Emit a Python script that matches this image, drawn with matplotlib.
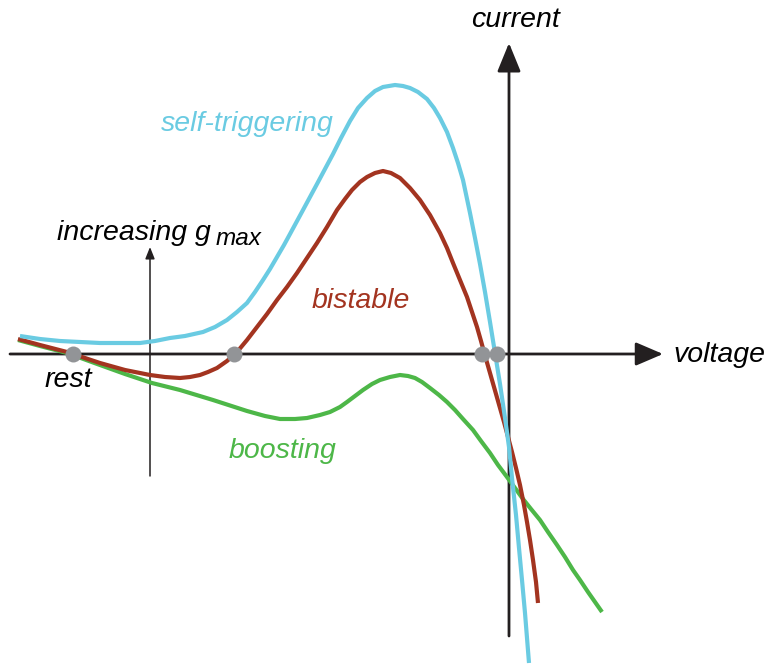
import matplotlib
matplotlib.use('Agg')
import matplotlib.pyplot as plt

# Curves (voltage, current), origin at the axes crossing
cyan_v = [-489, -469, -449, -429, -409, -389, -369, -354, -339, -324,
          -306, -294, -282, -272, -262, -254, -246, -239, -232, -225,
          -219, -206, -192, -184, -176, -168, -159, -151, -142, -134,
          -126, -114, -106, -99, -91, -82, -75, -69, -62, -56,
          -51, -46, -39, -34, -29, -24, -19, -14, -9, -4,
          0, 3, 7, 10, 13, 16, 20]
cyan_i = [18, 15, 13, 12, 11, 11, 11, 13, 16, 18,
          22, 27, 34, 42, 51, 62, 74, 85, 97, 109,
          120, 144, 170, 185, 200, 216, 233, 246, 256, 263,
          267, 269, 268, 266, 262, 255, 246, 236, 222, 206,
          191, 174, 141, 116, 90, 62, 32, 1, -30, -64,
          -93, -124, -161, -194, -226, -259, -309]

brown_v = [-491, -469, -442, -409, -384, -359, -344, -329, -319, -309,
           -301, -292, -282, -272, -262, -252, -242, -232, -222, -212,
           -202, -192, -182, -172, -164, -157, -149, -142, -134, -126,
           -118, -109, -99, -89, -79, -69, -62, -56, -49, -42,
           -37, -32, -28, -25, -21, -17, -13, -9, -5, -1,
           3, 7, 11, 15, 18, 21, 24, 27, 29]
brown_i = [15, 9, 2, -9, -16, -21, -23, -24, -23, -21,
           -18, -14, -7, 2, 14, 27, 40, 54, 67, 81,
           96, 111, 127, 144, 155, 164, 172, 177, 181, 183,
           181, 176, 166, 154, 139, 121, 106, 91, 74, 57,
           42, 27, 13, 2, -12, -26, -40, -54, -68, -83,
           -98, -114, -131, -151, -168, -186, -206, -228, -249]

green_v = [-491, -469, -442, -409, -384, -357, -329, -296, -262, -244,
           -229, -214, -202, -189, -179, -169, -162, -154, -146, -137,
           -129, -119, -109, -101, -94, -87, -79, -70, -62, -54,
           -46, -36, -28, -19, -11, -2, 6, 14, 22, 31,
           39, 48, 56, 64, 71, 79, 86, 93]
green_i = [14, 8, 1, -11, -20, -29, -36, -46, -57, -62,
           -65, -65, -64, -61, -58, -53, -48, -42, -36, -30,
           -26, -23, -21, -22, -24, -28, -34, -41, -48, -56,
           -65, -76, -87, -99, -111, -123, -134, -145, -155, -166,
           -178, -191, -203, -216, -226, -238, -248, -258]

# fixed points on the voltage axis
dots_v = [-436, -275, -27, -12]
dots_i = [0, 0, 0, 0]

c_cyan = '#6ACBE2'
c_brown = '#A33420'
c_green = '#4DB748'
c_gray = '#929497'
c_black = '#231F20'

fig = plt.figure(figsize=(7.65, 6.64), dpi=100)
ax = fig.add_axes([0, 0, 1, 1])
ax.set_xlim(-509, 256)
ax.set_ylim(-310, 354)
ax.axis('off')

# axes with arrow heads
ax.annotate('', xy=(154, 0), xytext=(-499, 0),
            arrowprops=dict(arrowstyle='-|>,head_length=1.05,head_width=0.45',
                            mutation_scale=16, lw=2.0, color=c_black,
                            shrinkA=0, shrinkB=0))
ax.annotate('', xy=(0, 311), xytext=(0, -282),
            arrowprops=dict(arrowstyle='-|>,head_length=1.1,head_width=0.45',
                            mutation_scale=16, lw=2.0, color=c_black,
                            shrinkA=0, shrinkB=0))
ax.annotate('', xy=(-359, 107), xytext=(-359, -122),
            arrowprops=dict(arrowstyle='-|>,head_length=1.0,head_width=0.4',
                            mutation_scale=7, lw=1.1, color=c_black,
                            shrinkA=0, shrinkB=0))

line = dict(lw=3.0, solid_capstyle='butt', solid_joinstyle='round')
ax.plot(green_v, green_i, color=c_green, zorder=3, **line)
ax.plot(brown_v, brown_i, color=c_brown, zorder=4, **line)
ax.plot(cyan_v, cyan_i, color=c_cyan, zorder=5, **line)
ax.plot(dots_v, dots_i, 'o', color=c_gray, markersize=11.5, markeredgewidth=0, zorder=6)

font = dict(family='Liberation Sans', style='italic', fontsize=20.5, va='baseline', ha='left')
ax.text(-38, 327, 'current', color='black', **font)
ax.text(164, -8, 'voltage', color='black', **font)
ax.text(-464, -33, 'rest', color='black', **font)
ax.text(-452, 114, 'increasing g', color='black', **font)
ax.text(-293, 109, 'max', color='black', family='Liberation Sans', style='italic',
        fontsize=17.5, va='baseline', ha='left')
ax.text(-348, 223, 'self-triggering', color=c_cyan, **font)
ax.text(-197, 46, 'bistable', color=c_brown, **font)
ax.text(-280, -104, 'boosting', color=c_green, **font)

fig.savefig('out.png', dpi=100)
